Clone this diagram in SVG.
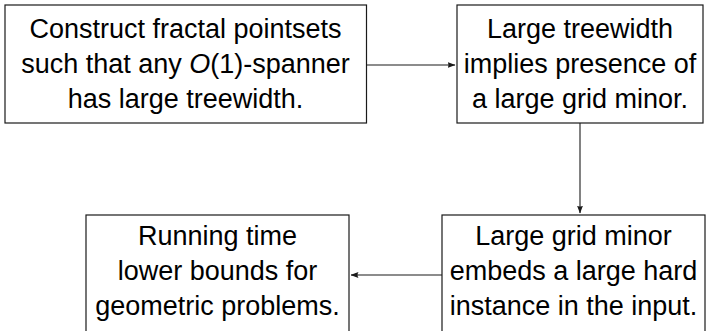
<svg xmlns="http://www.w3.org/2000/svg" width="718" height="331" viewBox="0 0 718 331">
<style>
.box{fill:#fff;stroke:#1a1a1a;stroke-width:1.2}
.t{font-family:"Liberation Sans",Arial,sans-serif;font-size:27px;fill:#000;text-anchor:middle}
.i{font-style:italic}
.c{stroke:#1a1a1a;stroke-width:1.1;fill:none;marker-end:url(#ah)}
</style>
<defs>
<marker id="ah" viewBox="0 0 8 6" refX="7.5" refY="3" markerWidth="8" markerHeight="6" markerUnits="userSpaceOnUse" orient="auto">
<path d="M0,0 Q2,3 0,6 L8,3 Z" fill="#1a1a1a"/>
</marker>
</defs>
<g id="n1">
<rect class="box" x="5" y="5" width="361.5" height="118"/>
<text class="t" x="185.5" y="38">Construct fractal pointsets</text>
<text class="t" x="185.5" y="73">such that any <tspan class="i">O</tspan>(1)-spanner</text>
<text class="t" x="185.5" y="108">has large treewidth.</text>
</g>
<g id="n2">
<rect class="box" x="457" y="5" width="246" height="118"/>
<text class="t" x="580" y="38">Large treewidth</text>
<text class="t" x="580" y="73">implies presence of</text>
<text class="t" x="580" y="108">a large grid minor.</text>
</g>
<g id="n3">
<rect class="box" x="442" y="215" width="263" height="120"/>
<text class="t" x="573.5" y="245">Large grid minor</text>
<text class="t" x="573.5" y="280">embeds a large hard</text>
<text class="t" x="573.5" y="315">instance in the input.</text>
</g>
<g id="n4">
<rect class="box" x="86" y="215" width="263" height="120"/>
<text class="t" x="217.5" y="245">Running time</text>
<text class="t" x="217.5" y="280">lower bounds for</text>
<text class="t" x="217.5" y="315">geometric problems.</text>
</g>
<g id="connectors">
<line class="c" x1="366.5" y1="65" x2="455" y2="65"/>
<line class="c" x1="580" y1="123" x2="580" y2="213"/>
<line class="c" x1="442" y1="275" x2="351" y2="275"/>
</g>
</svg>
